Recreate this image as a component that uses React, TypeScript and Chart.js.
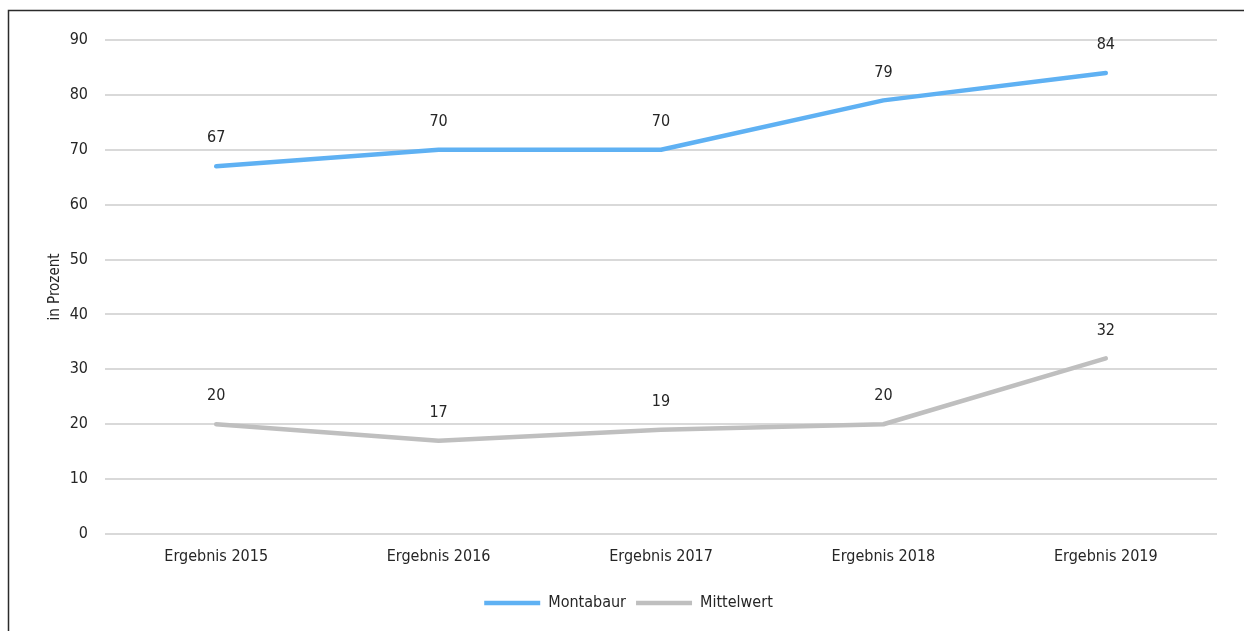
import React, { useEffect, useRef } from "react";
import { Chart, registerables } from "chart.js";

Chart.register(...registerables);

const categories = ["Ergebnis 2015", "Ergebnis 2016", "Ergebnis 2017", "Ergebnis 2018", "Ergebnis 2019"];
const montabaur = [67, 70, 70, 79, 84];
const mittelwert = [20, 17, 19, 20, 32];
const yTicks = [0, 10, 20, 30, 40, 50, 60, 70, 80, 90];

const FONT = "'Liberation Sans Narrow', 'Arial Narrow', 'DejaVu Sans Condensed', sans-serif";
const TEXT = "#262626";

// thin frame on the top and left edges of the canvas
const framePlugin = {
  id: "frame",
  beforeDraw(chart: any) {
    const ctx = chart.ctx;
    ctx.save();
    ctx.strokeStyle = "#2b2b2b";
    ctx.lineWidth = 1.5;
    ctx.beginPath();
    ctx.moveTo(8.5, chart.height);
    ctx.lineTo(8.5, 10.5);
    ctx.lineTo(chart.width, 10.5);
    ctx.stroke();
    ctx.restore();
  },
};

// value labels above each point
const valueLabelPlugin = {
  id: "valueLabels",
  afterDatasetsDraw(chart: any) {
    const ctx = chart.ctx;
    ctx.save();
    ctx.font = `16px ${FONT}`;
    ctx.fillStyle = TEXT;
    ctx.textAlign = "center";
    ctx.textBaseline = "middle";
    chart.data.datasets.forEach((ds: any, i: number) => {
      const meta = chart.getDatasetMeta(i);
      meta.data.forEach((pt: any, j: number) => {
        ctx.fillText(String(ds.data[j]), pt.x, pt.y - 28);
      });
    });
    ctx.restore();
  },
};

export default function App() {
  const canvasRef = useRef<HTMLCanvasElement | null>(null);

  useEffect(() => {
    if (!canvasRef.current) return;
    const chart = new Chart(canvasRef.current, {
      type: "line",
      data: {
        labels: categories,
        datasets: [
          {
            label: "Montabaur",
            data: montabaur,
            borderColor: "#5fb1f3",
            backgroundColor: "#5fb1f3",
            borderWidth: 4.5,
            borderCapStyle: "round",
            borderJoinStyle: "round",
            pointRadius: 0,
            pointHoverRadius: 0,
            pointStyle: "line",
            tension: 0,
          },
          {
            label: "Mittelwert",
            data: mittelwert,
            borderColor: "#bfbfbf",
            backgroundColor: "#bfbfbf",
            borderWidth: 4.5,
            borderCapStyle: "round",
            borderJoinStyle: "round",
            pointRadius: 0,
            pointHoverRadius: 0,
            pointStyle: "line",
            tension: 0,
          },
        ],
      },
      options: {
        responsive: false,
        animation: false,
        layout: { padding: { left: 40, top: 40, right: 27, bottom: 10 } },
        plugins: {
          tooltip: { enabled: false },
          legend: {
            position: "bottom",
            labels: {
              usePointStyle: true,
              pointStyleWidth: 56,
              padding: 10,
              color: TEXT,
              font: { family: FONT, size: 16 },
            },
          },
        },
        scales: {
          x: {
            offset: true,
            grid: { display: false, drawTicks: false },
            border: { display: false },
            ticks: { color: TEXT, font: { family: FONT, size: 16 }, padding: 13, maxRotation: 0 },
            afterFit(scale: any) {
              scale.height = 51;
            },
          },
          y: {
            min: 0,
            max: 90,
            afterBuildTicks(scale: any) {
              scale.ticks = yTicks.map((v) => ({ value: v }));
            },
            grid: { color: "#d9d9d9", lineWidth: 2, drawTicks: false },
            border: { display: false },
            ticks: { color: TEXT, font: { family: FONT, size: 16 }, padding: 17 },
            title: {
              display: true,
              text: "in Prozent",
              color: TEXT,
              font: { family: FONT, size: 15 },
              padding: { top: 6, bottom: 0 },
            },
            afterFit(scale: any) {
              scale.width = 65;
            },
          },
        },
      },
      plugins: [framePlugin, valueLabelPlugin],
    });
    return () => chart.destroy();
  }, []);

  return (
    <div style={{ position: "fixed", left: 0, top: 0, width: 1244, height: 631, background: "#fff" }}>
      <canvas ref={canvasRef} width={1244} height={631} style={{ display: "block" }} />
    </div>
  );
}
